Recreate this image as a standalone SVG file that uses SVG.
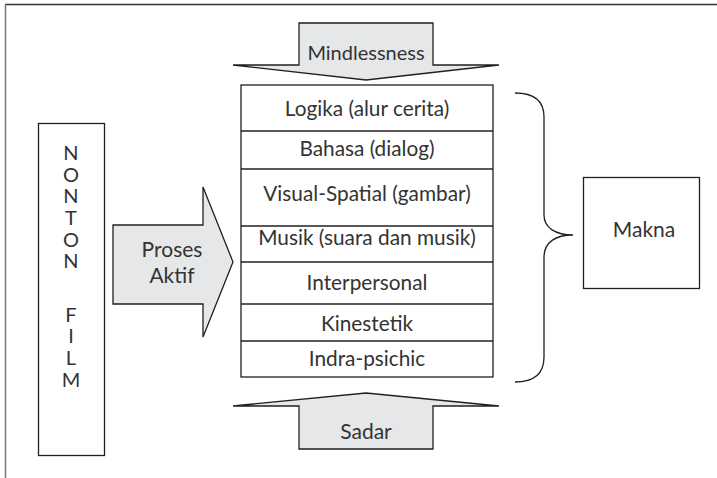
<svg xmlns="http://www.w3.org/2000/svg" width="717" height="478" viewBox="0 0 717 478">
<style>
.ln{fill:none;stroke:#231f20;stroke-width:1.3}
.box{fill:#fff;stroke:#231f20;stroke-width:1.3}
.arr{fill:#e6e7e8;stroke:#231f20;stroke-width:1.3;stroke-linejoin:miter}
.t{font-family:Lato,"Open Sans","Liberation Sans",sans-serif;fill:#333;text-anchor:middle}
.r{font-size:20.8px}
.b{font-size:21px}
.n{font-size:20px}
</style>
<rect width="717" height="478" fill="#fff"/>
<g id="frame">
<line x1="5" y1="4.5" x2="717" y2="4.5" stroke="#333" stroke-width="1.3"/>
<line x1="5.5" y1="4" x2="5.5" y2="478" stroke="#777" stroke-width="1.5"/>
</g>
<g id="nonton-film">
<rect class="box" x="38.5" y="123.5" width="66" height="332"/>
<g class="t n">
<text x="71" y="160">N</text>
<text x="71" y="182">O</text>
<text x="71" y="203">N</text>
<text x="71" y="225">T</text>
<text x="71" y="247">O</text>
<text x="71" y="268">N</text>
<text x="71" y="322">F</text>
<text x="71" y="343">I</text>
<text x="71" y="365">L</text>
<text x="71" y="387">M</text>
</g>
</g>
<g id="proses-aktif">
<path class="arr" d="M113,225 H203 V187 L233,262 L203,337 V304 H113 Z"/>
<text class="t b" x="172" y="257">Proses</text>
<text class="t b" x="172" y="283">Aktif</text>
</g>
<g id="mindlessness">
<path class="arr" d="M299,23 H433 V65 H499 L366,80 L233,65 H299 Z"/>
<text class="t n" x="366" y="60">Mindlessness</text>
</g>
<g id="sadar">
<path class="arr" d="M299,449 H433 V406 H499 L366,393 L233,406 H299 Z"/>
<text class="t b" x="366" y="439">Sadar</text>
</g>
<g id="kecerdasan">
<rect class="box" x="241" y="85" width="252" height="292"/>
<g class="ln">
<line x1="241" y1="131" x2="493" y2="131"/>
<line x1="241" y1="169" x2="493" y2="169"/>
<line x1="241" y1="226" x2="493" y2="226"/>
<line x1="241" y1="262" x2="493" y2="262"/>
<line x1="241" y1="304" x2="493" y2="304"/>
<line x1="241" y1="341" x2="493" y2="341"/>
</g>
<g class="t r">
<text x="367" y="116">Logika (alur cerita)</text>
<text x="367" y="156">Bahasa (dialog)</text>
<text x="367" y="201">Visual-Spatial (gambar)</text>
<text x="367" y="245">Musik (suara dan musik)</text>
<text x="367" y="290">Interpersonal</text>
<text x="367" y="331">Kinestetik</text>
<text x="367" y="366">Indra-psichic</text>
</g>
</g>
<g id="connectors">
<path class="ln" d="M515,93 C535,93 544,102 544,117 V215 C544,228 556,235 573,235 C556,235 544,242 544,257 V357 C544,373 535,382 515,382"/>
</g>
<g id="makna">
<rect class="box" x="583.5" y="177.5" width="116" height="111"/>
<text class="t b" x="644" y="237">Makna</text>
</g>
</svg>
